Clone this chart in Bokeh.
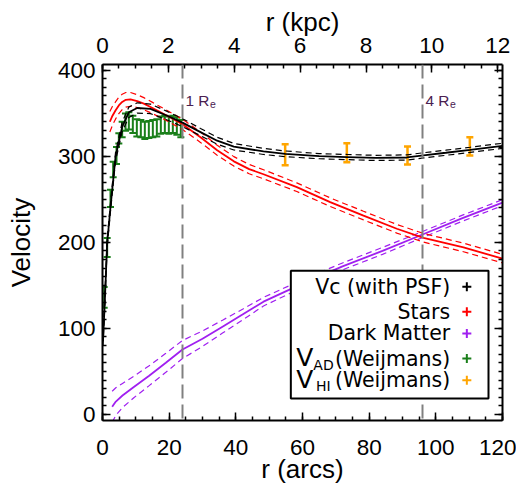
from bokeh.plotting import figure
from bokeh.models import (Range1d, LinearAxis, SingleIntervalTicker, ColumnDataSource,
                          Whisker, TeeHead, Span, Label, BoxAnnotation, CustomJSTickFormatter)
from bokeh.embed import file_html
from bokeh.resources import INLINE

# ---------------- data ----------------
# circular velocity (with PSF)
vc_r = [0.15, 0.7, 1.4, 2.4, 3.9, 5.9, 7.9, 10.4, 14.4, 19.4, 24, 29.4, 34.4, 39.4, 48.3,
        54.8, 65, 73.3, 82, 91.3, 96.3, 103, 110.3, 120]
vc_v = [85, 132, 199, 241, 299, 334, 351, 356, 355, 347, 339, 328, 318, 311, 305.5,
        302.8, 300, 299, 298, 298.5, 301, 304, 307.4, 312]
vc_e = [5, 5, 5, 5, 5, 5.5, 6, 6, 5.5, 5, 4.6, 4.2, 4, 3.8, 3.5,
        3.3, 3, 3, 3, 3, 3, 3, 3, 3]

# stars
st_r = [2.2, 3.0, 3.9, 4.9, 5.9, 7.0, 8.4, 10.4, 12.4, 15, 19.4, 24, 29.4, 34.4, 39.4,
        44, 48.3, 58.3, 68.3, 78.3, 88.3, 96.3, 108.3, 120]
st_v = [340, 347, 353, 359, 363, 365.5, 366, 364, 361, 356, 347, 337, 322, 307, 294,
        285, 279, 264, 246.6, 231, 215.7, 205.2, 194, 181]
st_e = [12, 11, 10, 9.5, 9, 8.5, 8, 7.5, 7, 6.5, 6, 6, 6, 5.8, 5.5,
        5.4, 5.3, 5, 5, 5, 5, 5, 5, 5]

# dark matter
dm_r = [2.9, 4, 6, 9.4, 14, 19, 24, 30, 36, 42, 48.3, 60, 72, 84, 96, 108, 120]
dm_v = [9, 15, 22, 32, 45, 60, 75.5, 88, 102, 116, 131, 152, 172, 190, 209, 228, 246]
dm_e = [18, 16, 14, 12.5, 11.5, 11, 10.5, 9, 7.5, 6.2, 5, 4.5, 4, 4, 3.5, 3.5, 3.5]

# V_AD (Weijmans)
ad_r = [0.5, 1.4, 2.4, 3.2, 4.2, 4.9, 5.9, 6.9, 7.9, 9.1, 10.3, 11.5, 12.7, 13.9,
        15.1, 16.3, 17.5, 18.7, 19.9, 21.1, 22.3, 23.5]
ad_v = [136, 194, 251, 284.5, 300.8, 320.6, 331, 339.5, 341, 337, 333, 332, 330, 331,
        332, 333, 336, 337, 336, 337, 335, 332]
ad_e = [12, 11, 10, 9, 10, 6, 9, 10, 10, 10, 10, 10, 10, 10,
        10, 10, 10, 10, 10, 10, 10, 10]

# V_HI (Weijmans)
hi_r = [54.8, 73.3, 91.5, 110.2]
hi_v = [301.7, 304, 300.8, 311.5]
hi_e = [12.3, 11, 10.5, 10.6]

# effective-radius markers
re_r = [24, 96]
re_lab = ["1 R", "4 R"]

legend_labels = ["Vc (with PSF)", "Stars", "Dark Matter", "V|AD|(Weijmans)", "V|HI| (Weijmans)"]
legend_colors = ["black", "red", "#a020f0", "#1a7f1a", "orange"]

KPC_PER_ARCS = 0.1012

# ---------------- figure ----------------
FONT = "Liberation Sans"
LFONT = "DejaVu Sans"
p = figure(frame_width=400, frame_height=356, x_range=Range1d(0, 120), y_range=Range1d(-7, 406.5),
           output_backend="svg", toolbar_location=None,
           x_axis_location=None, y_axis_location=None,
           min_border_left=102, min_border_right=14, min_border_top=64, min_border_bottom=60)
p.outline_line_color = None
p.background_fill_color = "white"
p.grid.visible = False
p.extra_x_ranges = {"kpc": Range1d(0, 120 * KPC_PER_ARCS)}


def style(ax):
    ax.axis_line_width = 2
    ax.major_tick_in = 8
    ax.major_tick_out = 0
    ax.minor_tick_in = 4
    ax.minor_tick_out = 0
    ax.major_tick_line_width = 1.5
    ax.minor_tick_line_width = 1.5
    ax.major_label_text_font = FONT
    ax.major_label_text_font_size = "22.5px"
    ax.major_label_text_color = "black"
    ax.axis_label_text_font = FONT
    ax.axis_label_text_font_size = "26px"
    ax.axis_label_text_font_style = "normal"
    ax.axis_label_text_color = "black"


xb = LinearAxis(ticker=SingleIntervalTicker(interval=20, num_minor_ticks=4), axis_label="r (arcs)")
style(xb)
xb.major_label_standoff = 19
xb.axis_label_standoff = -4
p.add_layout(xb, "below")

xt = LinearAxis(x_range_name="kpc", ticker=SingleIntervalTicker(interval=2, num_minor_ticks=4),
                axis_label="r (kpc)")
style(xt)
xt.major_label_standoff = 12
xt.axis_label_standoff = -2
p.add_layout(xt, "above")

yl = LinearAxis(ticker=SingleIntervalTicker(interval=100, num_minor_ticks=10), axis_label="Velocity")
style(yl)
yl.major_label_standoff = 7
yl.axis_label_standoff = 19
p.add_layout(yl, "left")

yr = LinearAxis(ticker=SingleIntervalTicker(interval=100, num_minor_ticks=10),
                formatter=CustomJSTickFormatter(code="return ''"))
style(yr)
yr.major_label_standoff = 0
p.add_layout(yr, "right")

# ---------------- curves ----------------
def band(r, v, e, color, lw=1.8):
    p.line(r, v, line_color=color, line_width=lw)
    p.line(r, [a + b for a, b in zip(v, e)], line_color=color, line_width=1.2, line_dash="6 4")
    p.line(r, [a - b for a, b in zip(v, e)], line_color=color, line_width=1.2, line_dash="6 4")


band(dm_r, dm_v, dm_e, legend_colors[2])
band(st_r, st_v, st_e, legend_colors[1])
band(vc_r, vc_v, vc_e, legend_colors[0])

for loc in re_r:
    p.add_layout(Span(location=loc, dimension="height", line_color="#808080",
                      line_width=2, line_dash="14 6"))

for loc, lab in zip(re_r, re_lab):
    p.add_layout(Label(x=loc, y=406.5, x_offset=3, y_offset=-36, text=lab,
                       text_font=FONT, text_font_size="15.4px", text_color="#4a2050",
                       text_baseline="alphabetic"))
    p.add_layout(Label(x=loc, y=406.5, x_offset=27.5, y_offset=-39, text="e",
                       text_font=FONT, text_font_size="10.5px", text_color="#4a2050",
                       text_baseline="alphabetic"))

ad_src = ColumnDataSource(dict(x=ad_r, lo=[a - b for a, b in zip(ad_v, ad_e)],
                               hi=[a + b for a, b in zip(ad_v, ad_e)]))
p.add_layout(Whisker(source=ad_src, base="x", lower="lo", upper="hi",
                     line_color=legend_colors[3], line_width=2,
                     upper_head=TeeHead(size=7, line_color=legend_colors[3], line_width=2),
                     lower_head=TeeHead(size=7, line_color=legend_colors[3], line_width=2)))

hi_src = ColumnDataSource(dict(x=hi_r, lo=[a - b for a, b in zip(hi_v, hi_e)],
                               hi=[a + b for a, b in zip(hi_v, hi_e)]))
p.add_layout(Whisker(source=hi_src, base="x", lower="lo", upper="hi",
                     line_color=legend_colors[4], line_width=2.5,
                     upper_head=TeeHead(size=7, line_color=legend_colors[4], line_width=2.5),
                     lower_head=TeeHead(size=7, line_color=legend_colors[4], line_width=2.5)))

# ---------------- legend ----------------
LEG_L, LEG_R, LEG_B, LEG_T = 56.5, 115.8, 18.6, 166.9
p.add_layout(BoxAnnotation(left=LEG_L, right=LEG_R, bottom=LEG_B, top=LEG_T,
                           fill_color="white", fill_alpha=1.0, line_color="black",
                           line_width=2, line_alpha=1.0, level="annotation"))
row_y = [148.3, 119.3, 94.1, 65.0, 39.8]
TEXT_X = 104.3
MARK_X = 109.3
LEG_FS = "20.5px"
sub_off = {"AD": (-116.5, -136.7), "HI": (-119.5, -136.7)}
for lab, col, yv in zip(legend_labels, legend_colors, row_y):
    parts = lab.split("|")
    if len(parts) == 1:
        p.add_layout(Label(x=TEXT_X, y=yv, text=lab, text_align="right", text_baseline="middle",
                           text_font=LFONT, text_font_size=LEG_FS, text_color="black"))
    else:
        main, sub, rest = parts
        so, mo = sub_off[sub]
        p.add_layout(Label(x=TEXT_X, y=yv, text=rest.strip(), text_align="right",
                           text_baseline="middle", text_font=LFONT, text_font_size=LEG_FS,
                           text_color="black"))
        p.add_layout(Label(x=TEXT_X, y=yv, x_offset=so, y_offset=-6, text=sub, text_align="right",
                           text_baseline="middle", text_font=LFONT, text_font_size="14px",
                           text_color="black"))
        p.add_layout(Label(x=TEXT_X, y=yv, x_offset=mo, y_offset=1, text=main, text_align="right",
                           text_baseline="middle", text_font=LFONT, text_font_size="25px",
                           text_color="black"))
p.scatter([MARK_X] * len(row_y), row_y, marker="cross", size=9, line_width=2,
          color=legend_colors, level="overlay")

open("out.html", "w").write(file_html(p, INLINE))
